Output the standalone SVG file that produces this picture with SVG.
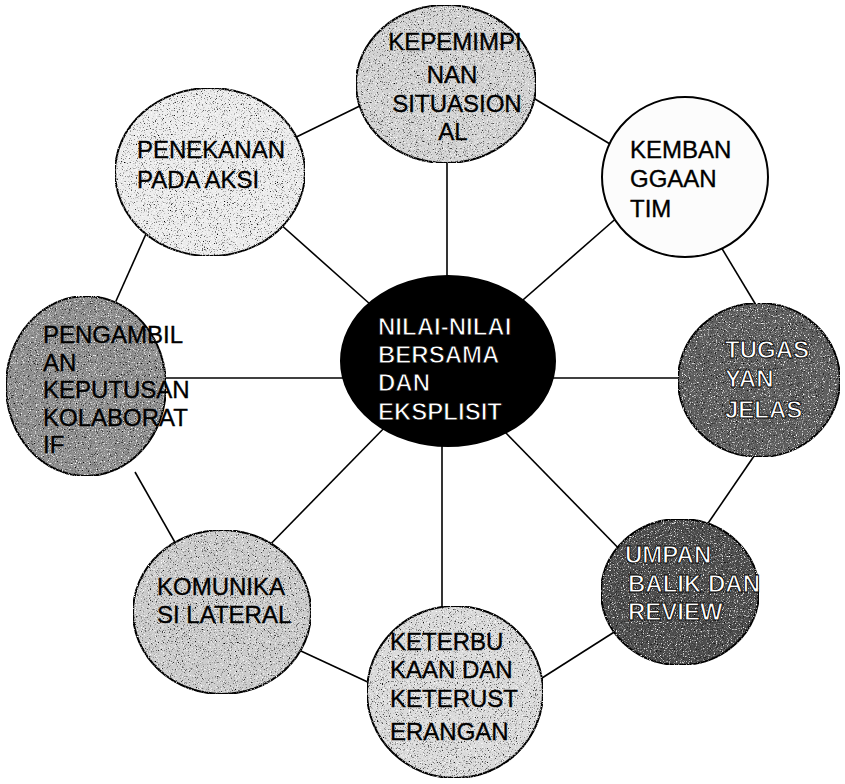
<svg xmlns="http://www.w3.org/2000/svg" width="845" height="784" viewBox="0 0 845 784">
<style>
.node ellipse{stroke:#000;stroke-width:2}
.lbl{font-family:"Liberation Sans",Arial,sans-serif;font-size:24px;fill:#000;stroke:#000;stroke-width:0.35}
.inv{fill:#fff;stroke:#000;stroke-width:0.9;font-weight:bold}
.conn line{stroke:#000;stroke-width:1.6}
</style>
<defs>
<filter id="grain" x="0" y="0" width="1" height="1" color-interpolation-filters="sRGB">
<feTurbulence type="fractalNoise" baseFrequency="0.85" numOctaves="2" seed="7" result="noise"/>
<feColorMatrix in="noise" type="matrix" values="0 0 0 0 0  0 0 0 0 0  0 0 0 0 0  4 0 0 0 -2.35" result="b"/>
<feComposite in="b" in2="SourceAlpha" operator="in" result="bk"/>
<feColorMatrix in="noise" type="matrix" values="0 0 0 0 1  0 0 0 0 1  0 0 0 0 1  0 4 0 0 -2.25" result="w"/>
<feComposite in="w" in2="SourceAlpha" operator="in" result="wh"/>
<feMerge><feMergeNode in="SourceGraphic"/><feMergeNode in="bk"/><feMergeNode in="wh"/></feMerge>
</filter>
</defs>
<rect width="845" height="784" fill="#fff"/>
<g id="connectors" class="conn">
<line x1="447" y1="150" x2="447" y2="290"/>
<line x1="270" y1="215" x2="380" y2="313"/>
<line x1="620" y1="215" x2="500" y2="320"/>
<line x1="150" y1="378" x2="350" y2="378"/>
<line x1="540" y1="378" x2="690" y2="378"/>
<line x1="255" y1="560" x2="390" y2="422"/>
<line x1="505" y1="432" x2="630" y2="560"/>
<line x1="442" y1="430" x2="442" y2="625"/>
<line x1="280" y1="145" x2="370" y2="101"/>
<line x1="520" y1="90" x2="620" y2="150"/>
<line x1="715" y1="237" x2="765" y2="320"/>
<line x1="765" y1="440" x2="700" y2="535"/>
<line x1="520" y1="692" x2="630" y2="622"/>
<line x1="260" y1="632" x2="400" y2="697"/>
<line x1="135" y1="472" x2="185" y2="560"/>
<line x1="150" y1="225" x2="112" y2="310"/>
</g>
<g id="node-top" class="node">
<ellipse cx="446" cy="84" rx="90" ry="79" fill="#d2d2d2" filter="url(#grain)"/>
<text class="lbl" text-anchor="middle"><tspan x="455" y="50">KEPEMIMPI</tspan><tspan x="452" y="83">NAN</tspan><tspan x="457" y="112">SITUASION</tspan><tspan x="453" y="140">AL</tspan></text>
</g>
<g id="node-topleft" class="node">
<ellipse cx="210" cy="172" rx="95" ry="84" fill="#ececec" filter="url(#grain)"/>
<text class="lbl"><tspan x="137" y="158">PENEKANAN</tspan><tspan x="137" y="188">PADA AKSI</tspan></text>
</g>
<g id="node-topright" class="node">
<ellipse cx="685" cy="177" rx="83" ry="80" fill="#fcfcfc"/>
<text class="lbl"><tspan x="630" y="158">KEMBAN</tspan><tspan x="630" y="187">GGAAN</tspan><tspan x="630" y="217">TIM</tspan></text>
</g>
<g id="node-center" class="node">
<ellipse cx="448" cy="361" rx="107" ry="85" fill="#000"/>
<text class="lbl inv"><tspan x="378" y="335">NILAI-NILAI</tspan><tspan x="378" y="363">BERSAMA</tspan><tspan x="378" y="391">DAN</tspan><tspan x="378" y="420">EKSPLISIT</tspan></text>
</g>
<g id="node-left" class="node">
<ellipse cx="86" cy="386" rx="80" ry="90" fill="#8e8e8e" filter="url(#grain)"/>
<text class="lbl"><tspan x="43" y="343">PENGAMBIL</tspan><tspan x="43" y="371">AN</tspan><tspan x="43" y="398">KEPUTUSAN</tspan><tspan x="43" y="426">KOLABORAT</tspan><tspan x="43" y="453">IF</tspan></text>
</g>
<g id="node-right" class="node">
<ellipse cx="759" cy="380" rx="81" ry="77" fill="#5e5e5e" filter="url(#grain)"/>
<text class="lbl inv"><tspan x="725" y="358">TUGAS</tspan><tspan x="725" y="387">YAN</tspan><tspan x="725" y="418">JELAS</tspan></text>
</g>
<g id="node-bottomright" class="node">
<ellipse cx="680" cy="592" rx="79" ry="73" fill="#4c4c4c" filter="url(#grain)"/>
<text class="lbl inv"><tspan x="625" y="563">UMPAN</tspan><tspan x="628" y="592">BALIK DAN</tspan><tspan x="628" y="620">REVIEW</tspan></text>
</g>
<g id="node-bottom" class="node">
<ellipse cx="455" cy="692" rx="88" ry="86" fill="#dadada" filter="url(#grain)"/>
<text class="lbl"><tspan x="390" y="650">KETERBU</tspan><tspan x="390" y="678">KAAN DAN</tspan><tspan x="390" y="707">KETERUST</tspan><tspan x="390" y="740">ERANGAN</tspan></text>
</g>
<g id="node-bottomleft" class="node">
<ellipse cx="222" cy="612" rx="89" ry="82" fill="#cbcbcb" filter="url(#grain)"/>
<text class="lbl"><tspan x="157" y="595">KOMUNIKA</tspan><tspan x="157" y="623">SI LATERAL</tspan></text>
</g>
</svg>
